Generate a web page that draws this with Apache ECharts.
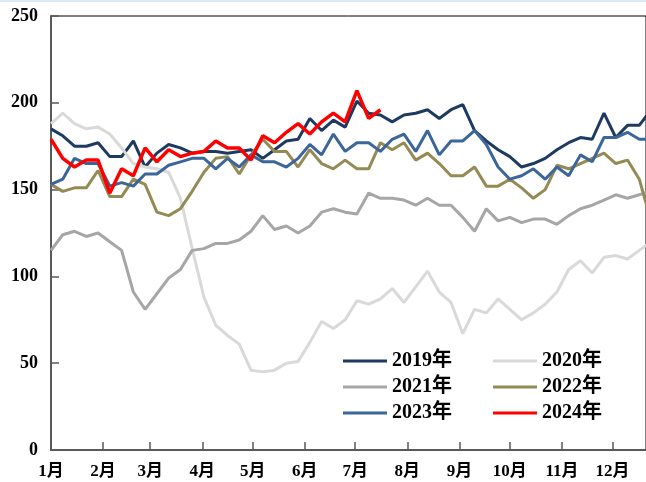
<!DOCTYPE html>
<html>
<head>
<meta charset="utf-8">
<script src="https://cdn.jsdelivr.net/npm/echarts@6/dist/echarts.min.js"></script>
<style>
  html, body { margin: 0; padding: 0; background: #fff; }
  #chart { width: 646px; height: 482px; }
</style>
</head>
<body>
<div id="chart"></div>
<script>
// Month labels and the day of year each month starts on
const months = ['1月', '2月', '3月', '4月', '5月', '6月', '7月', '8月', '9月', '10月', '11月', '12月'];
const monthStartDays = [0, 31, 59, 90, 120, 151, 181, 212, 243, 273, 304, 334];

// Weekly values, one array per year
const s2019 = [185, 181, 175, 175, 177, 169, 169, 178, 163, 171, 176, 174, 171, 172, 172, 171, 172, 173, 168, 173,
  178, 179, 191, 184, 190, 186, 201, 194, 193, 189, 193, 194, 196, 191, 196, 199, 184, 178, 173, 169,
  163, 165, 168, 173, 177, 180, 179, 194, 180, 187, 187, 196];
const s2020 = [188, 194, 188, 185, 186, 182, 174, 165, 163, 162, 160, 145, 116, 88, 72, 66, 61, 46, 45, 46,
  50, 51, 62, 74, 70, 75, 86, 84, 87, 93, 85, 94, 103, 91, 85, 67, 81, 79, 87, 81,
  75, 79, 84, 91, 104, 109, 102, 111, 112, 110, 115, 120];
const s2021 = [115, 124, 126, 123, 125, 120, 115, 91, 81, 90, 99, 104, 115, 116, 119, 119, 121, 126, 135, 127,
  129, 125, 129, 137, 139, 137, 136, 148, 145, 145, 144, 141, 145, 141, 141, 134, 126, 139, 132, 134,
  131, 133, 133, 130, 135, 139, 141, 144, 147, 145, 147, 149];
const s2022 = [153, 149, 151, 151, 161, 146, 146, 156, 153, 137, 135, 139, 149, 160, 168, 169, 159, 170, 179, 172,
  172, 163, 173, 165, 162, 167, 162, 162, 177, 173, 177, 167, 171, 165, 158, 158, 163, 152, 152, 156,
  151, 145, 150, 164, 162, 165, 168, 171, 165, 167, 156, 132];
const s2023 = [153, 156, 168, 165, 165, 152, 154, 152, 159, 159, 164, 166, 168, 168, 162, 168, 163, 170, 166, 166,
  163, 168, 176, 170, 182, 172, 177, 177, 172, 179, 182, 172, 184, 170, 178, 178, 184, 176, 163, 156,
  158, 162, 156, 163, 158, 170, 166, 180, 180, 183, 179, 179];
const s2024 = [179, 168, 163, 167, 167, 148, 162, 158, 174, 166, 173, 169, 171, 172, 178, 174, 174, 167, 181, 177,
  183, 188, 182, 189, 194, 189, 207, 191, 196];

const seriesNames = ['2019年', '2020年', '2021年', '2022年', '2023年', '2024年'];
const seriesValues = [s2019, s2020, s2021, s2022, s2023, s2024];
const seriesColors = ['#1F3A60', '#D9D9D9', '#A6A6A6', '#948A54', '#3B6699', '#FF0000'];
const seriesWidths = [3, 3, 3, 3, 3, 3.5];

// weekly samples placed on a day-of-year axis
const toPoints = vals => vals.map((v, i) => [i * 7, v]);

const serifFont = '"Liberation Serif", "Times New Roman", "Noto Sans CJK SC", serif';

// legend: two columns, three rows
const legendCols = [343, 493];
const legendRows = [351, 377, 403];
const legends = seriesNames.map((name, k) => ({
  data: [name],
  left: legendCols[k % 2],
  top: legendRows[Math.floor(k / 2)],
  padding: 0,
  icon: 'rect',
  itemWidth: 44,
  itemHeight: 3,
  textStyle: { color: '#000', fontFamily: serifFont, fontWeight: 'bold', fontSize: 20 }
}));

const chart = echarts.init(document.getElementById('chart'), null, { renderer: 'canvas' });
chart.setOption({
  animation: false,
  backgroundColor: '#fff',
  graphic: [{
    type: 'rect', left: 0, top: 0, shape: { width: 646, height: 2 },
    style: { fill: '#DDE9F6' }, silent: true
  }],
  grid: {
    left: 51, top: 16, right: 0, bottom: 32,
    show: true, borderColor: '#000', borderWidth: 1, backgroundColor: 'transparent'
  },
  legend: legends,
  xAxis: {
    // the year runs on past the right edge; the visible window ends in mid December
    type: 'value', min: 0, max: 354,
    splitLine: { show: false },
    axisLine: { lineStyle: { color: '#595959', width: 2 } },
    axisTick: { inside: true, length: 8, customValues: monthStartDays, lineStyle: { color: '#595959', width: 1.5 } },
    axisLabel: {
      customValues: monthStartDays,
      formatter: v => months[monthStartDays.indexOf(v)] || '',
      margin: 13, color: '#000', fontFamily: serifFont, fontWeight: 'bold', fontSize: 17
    }
  },
  yAxis: {
    type: 'value', min: 0, max: 250, interval: 50,
    splitLine: { show: false },
    axisLine: { show: true, lineStyle: { color: '#595959', width: 2 } },
    axisTick: { show: true, inside: true, length: 8, lineStyle: { color: '#595959', width: 1.5 } },
    axisLabel: { margin: 13, color: '#000', fontFamily: serifFont, fontWeight: 'bold', fontSize: 18 }
  },
  series: seriesNames.map((name, k) => ({
    name: name,
    type: 'line',
    data: toPoints(seriesValues[k]),
    symbol: 'none',
    clip: true,
    color: seriesColors[k],
    lineStyle: { color: seriesColors[k], width: seriesWidths[k] },
    z: 2 + k
  }))
});
</script>
</body>
</html>
